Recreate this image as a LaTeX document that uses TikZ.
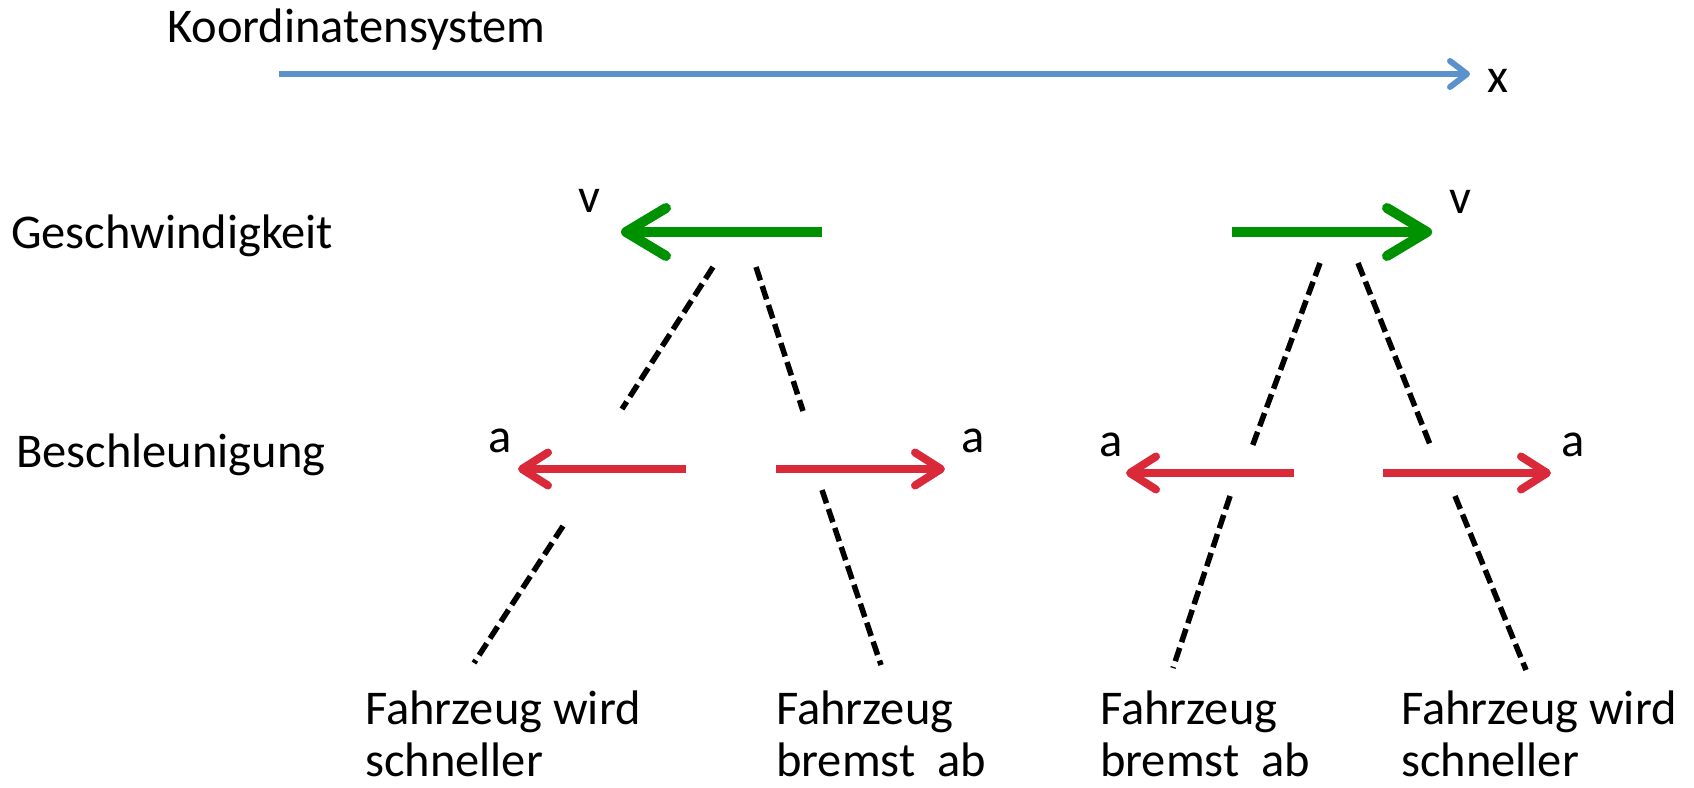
\documentclass[tikz,border=0pt]{standalone}
\usepackage{fontspec}
\setmainfont{Carlito}
\usepackage{tikz}
\usetikzlibrary{arrows.meta}
\definecolor{axisblue}{RGB}{91,146,204}
\definecolor{vgreen}{RGB}{0,145,0}
\definecolor{ared}{RGB}{218,42,58}

\begin{document}
\begin{tikzpicture}[x=1pt,y=-1pt,
	lbl/.style={inner sep=0pt,font=\fontsize{48.5}{52}\selectfont},
	axis/.style={-{Straight Barb[length=17pt,width=26pt,round]},line width=6pt,axisblue},
	vel/.style={-{Straight Barb[length=40pt,width=48pt,round]},line width=10pt,vgreen},
	acc/.style={-{Straight Barb[length=26pt,width=33pt,round]},line width=8pt,ared}]
				  \useasboundingbox (0,0) rectangle (1694,787);
				  \node[lbl,anchor=base west]   (KS)   at (167,42)    {Koordinatensystem};
				  \node[lbl,anchor=base west]   (GE)   at (11,248)    {Geschwindigkeit};
				  \node[lbl,anchor=base west]   (BE)   at (16,467)    {Beschleunigung};
				  \node[lbl,anchor=base]        (X)    at (1498,92)   {x};
				  \node[lbl,anchor=base]        (VL)   at (589,212)   {v};
				  \node[lbl,anchor=base]        (VR)   at (1460,213)  {v};
				  \node[lbl,anchor=base]        (ALL)  at (500,452)   {a};
				  \node[lbl,anchor=base]        (ALR)  at (973,452)   {a};
				  \node[lbl,anchor=base]        (ARL)  at (1111,456)  {a};
				  \node[lbl,anchor=base]        (ARR)  at (1573,456)  {a};
				  \node[lbl,anchor=base west,align=left,text depth=0pt] (F1) at (365,776)  {Fahrzeug wird\\schneller};
				  \node[lbl,anchor=base west,align=left,text depth=0pt] (F2) at (776,776)  {Fahrzeug\\bremst\ \ ab};
				  \node[lbl,anchor=base west,align=left,text depth=0pt] (F3) at (1100,776) {Fahrzeug\\bremst\ \ ab};
				  \node[lbl,anchor=base west,align=left,text depth=0pt] (F4) at (1401,776) {Fahrzeug wird\\schneller};

				  \coordinate (X0)  at (279,74);   \coordinate (X1)  at (1470,74);
				  \coordinate (VL0) at (822,232);  \coordinate (VL1) at (621,232);
				  \coordinate (VR0) at (1232,232); \coordinate (VR1) at (1432,232);
				  \coordinate (LL0) at (686,469);  \coordinate (LL1) at (518,469);
				  \coordinate (LR0) at (776,469);  \coordinate (LR1) at (945,469);
				  \coordinate (RL0) at (1294,473); \coordinate (RL1) at (1126,473);
				  \coordinate (RR0) at (1383,473); \coordinate (RR1) at (1551,473);

				  \coordinate (D1a) at (713,267);  \coordinate (D1b) at (622,409);
				  \coordinate (D2a) at (756,267);  \coordinate (D2b) at (803,411);
				  \coordinate (D3a) at (563,526);  \coordinate (D3b) at (474,663);
				  \coordinate (D4a) at (822,490);  \coordinate (D4b) at (881,665);
				  \coordinate (D5a) at (1320,263); \coordinate (D5b) at (1252,447);
				  \coordinate (D6a) at (1358,263); \coordinate (D6b) at (1431,447);
				  \coordinate (D7a) at (1230,496); \coordinate (D7b) at (1173,668);
				  \coordinate (D8a) at (1455,496); \coordinate (D8b) at (1526,670);

				\draw[axis] (X0) -- (X1);
				\draw[vel]  (VL0) -- (VL1);
				\draw[vel]  (VR0) -- (VR1);
				\draw[acc]  (LL0) -- (LL1);
				\draw[acc]  (LR0) -- (LR1);
				\draw[acc]  (RL0) -- (RL1);
				\draw[acc]  (RR0) -- (RR1);

				\tikzset{split/.style={-,line width=5.5pt,dash pattern=on 14pt off 6pt}}
				\path (D1a)   edge [split]   (D1b)
					  (D2a)   edge [split]   (D2b)
					  (D3a)   edge [split]   (D3b)
					  (D4a)   edge [split]   (D4b)
					  (D5a)   edge [split]   (D5b)
					  (D6a)   edge [split]   (D6b)
					  (D7a)   edge [split]   (D7b)
					  (D8a)   edge [split]   (D8b);
			\end{tikzpicture}
\end{document}
